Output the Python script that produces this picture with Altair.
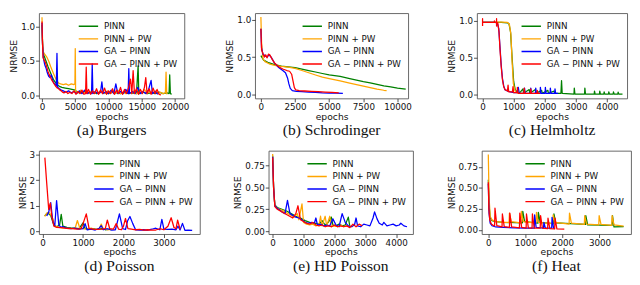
import altair as alt
import pandas as pd

SERIES = ["PINN", "PINN + PW", "GA − PINN", "GA − PINN + PW"]
COLORS = ["green", "orange", "blue", "red"]

# ---------------- (a) Burgers ----------------
a_pinn = [(0,1.02),(100,0.70),(300,0.58),(600,0.50),(900,0.42),(1200,0.35),(1500,0.28),(1800,0.22),(2100,0.18),
          (2400,0.15),(2700,0.13),(3000,0.12),(3500,0.11),(4000,0.10),(4500,0.09),(5000,0.08),(5300,0.05),(5800,0.04),
          (6400,0.06),(7000,0.04),(7600,0.05),(8200,0.03),(8800,0.06),(9400,0.04),(10000,0.03),(10600,0.05),(11200,0.04),
          (11800,0.03),(12400,0.05),(13000,0.03),(13600,0.04),(14200,0.03),(14450,0.43),(14550,0.04),(14650,0.03),
          (15200,0.05),(15800,0.03),(16400,0.04),(17000,0.03),(17600,0.05),(18200,0.03),(18800,0.04),(19100,0.03),
          (19200,0.30),(19300,0.03),(19500,0.02)]
a_pw = [(0,1.13),(80,0.80),(200,0.62),(400,0.60),(700,0.56),(1000,0.50),(1300,0.42),(1600,0.35),(1900,0.28),(2200,0.22),
        (2500,0.18),(2800,0.17),(3200,0.16),(3600,0.17),(4000,0.15),(4400,0.17),(4800,0.16),(4950,0.17),(5000,0.68),
        (5050,0.06),(5400,0.04),(5800,0.08),(6200,0.03),(6600,0.06),(7000,0.03),(7400,0.07),(7800,0.03),(8200,0.05),
        (8600,0.03),(9000,0.06),(9400,0.03),(9800,0.07),(10200,0.03),(10600,0.05),(11000,0.03),(11400,0.08),(11800,0.03),
        (12200,0.05),(12600,0.03),(13000,0.06),(13400,0.03),(13800,0.07),(14200,0.03),(14600,0.05),(15000,0.03),
        (15400,0.09),(15800,0.03),(16200,0.06),(16600,0.03),(17000,0.07),(17400,0.03),(17800,0.05),(18200,0.03),
        (18550,0.04),(18650,0.34),(18750,0.03),(18850,0.02)]
a_ga = [(0,1.05),(80,0.75),(200,0.55),(400,0.45),(600,0.40),(800,0.33),(1000,0.28),(1200,0.26),(1400,0.30),(1600,0.22),
        (1800,0.18),(2000,0.16),(2150,0.14),(2250,0.61),(2350,0.12),(2600,0.10),(2900,0.08),(3200,0.07),(3600,0.05),
        (4000,0.07),(4400,0.04),(4800,0.06),(5200,0.03),(5600,0.07),(6000,0.03),(6400,0.08),(6800,0.03),(7200,0.05),
        (7450,0.03),(7550,0.46),(7650,0.03),(8000,0.06),(8400,0.03),(8800,0.05),(9000,0.20),(9200,0.03),(9600,0.06),
        (10000,0.03),(10400,0.08),(10800,0.03),(11100,0.17),(11400,0.03),(11800,0.06),(12200,0.03),(12600,0.09),
        (12950,0.03),(13050,0.39),(13150,0.03),(13600,0.06),(14000,0.03),(14400,0.12),(14800,0.03),(15200,0.06),
        (15600,0.03),(16000,0.08),(16400,0.22),(16600,0.03),(17000,0.06),(17400,0.02)]
a_gapw = [(0,1.07),(60,0.80),(150,0.55),(300,0.52),(500,0.48),(700,0.42),(900,0.35),(1100,0.30),(1300,0.26),(1500,0.22),
          (1700,0.19),(1900,0.16),(2100,0.13),(2300,0.11),(2500,0.10),(2700,0.08),(2900,0.07),(3100,0.05),(3300,0.04),
          (3600,0.06),(3900,0.03),(4200,0.05),(4500,0.03),(4800,0.07),(5100,0.02),(5400,0.06),(5700,0.03),(6000,0.08),
          (6300,0.02),(6550,0.03),(6650,0.41),(6750,0.03),(7000,0.09),(7300,0.02),(7600,0.07),(7900,0.03),(8200,0.10),
          (8500,0.02),(8800,0.08),(9100,0.03),(9400,0.11),(9700,0.02),(10000,0.07),(10300,0.03),(10600,0.10),(10900,0.02),
          (11200,0.08),(11500,0.03),(11800,0.12),(12100,0.02),(12400,0.09),(12700,0.03),(13000,0.11),(13300,0.24),
          (13500,0.03),(13700,0.36),(13900,0.03),(14200,0.10),(14500,0.02),(14800,0.09),(15100,0.03),(15400,0.12),
          (15600,0.26),(15800,0.03),(16100,0.10),(16400,0.02),(16700,0.11),(17000,0.03),(17300,0.09),(17600,0.02),
          (17900,0.01)]

# ---------------- (b) Schrodinger ----------------
b_pinn = [(0,0.52),(200,0.46),(500,0.43),(1000,0.40),(1500,0.38),(2000,0.37),(2500,0.36),(3000,0.34),(3500,0.32),
          (4000,0.30),(4500,0.28),(5000,0.26),(5800,0.24),(6500,0.21),(7000,0.19),(7500,0.17),(8000,0.155),(8500,0.135),
          (9000,0.115),(9500,0.10),(10000,0.085),(10600,0.07)]
b_pw = [(0,1.04),(50,0.70),(150,0.48),(300,0.44),(600,0.41),(1000,0.39),(1500,0.375),(2000,0.365),(2500,0.35),(3000,0.32),
        (3500,0.29),(4000,0.26),(4500,0.23),(5000,0.21),(5800,0.18),(6500,0.15),(7000,0.13),(7500,0.11),(8000,0.09),
        (8500,0.07),(9000,0.055),(9200,0.05)]
b_ga = [(0,0.88),(50,0.62),(150,0.54),(300,0.52),(450,0.50),(600,0.53),(750,0.50),(1000,0.42),(1300,0.36),(1600,0.32),
        (1800,0.29),(1950,0.22),(2050,0.14),(2150,0.08),(2300,0.05),(2600,0.04),(3000,0.035),(3500,0.03),(4000,0.025),
        (4500,0.02),(5000,0.018),(5500,0.015),(6000,0.013)]
b_gapw = [(0,0.88),(50,0.60),(150,0.55),(250,0.50),(350,0.53),(450,0.49),(550,0.54),(650,0.53),(800,0.48),(1000,0.42),
          (1300,0.37),(1600,0.34),(1900,0.32),(2100,0.31),(2250,0.27),(2350,0.18),(2450,0.09),(2550,0.06),(2800,0.05),
          (3200,0.045),(3700,0.04),(4200,0.035),(4700,0.03),(5200,0.025),(5700,0.02)]

# ---------------- (c) Helmholtz ----------------
c_pinn = [(0,0.98),(200,0.98),(400,0.98),(600,0.98),(800,0.975),(850,0.96),(900,0.85),(950,0.50),(1000,0.18),(1050,0.07),
          (1100,0.04),(1200,0.03),(1300,0.08),(1320,0.02),(1500,0.07),(1520,0.02),(1700,0.07),(1720,0.02),(1900,0.06),
          (1920,0.02),(2100,0.06),(2120,0.02),(2300,0.05),(2320,0.02),(2520,0.02),(2540,0.19),(2560,0.02),(2940,0.01),
          (2950,0.09),(2970,0.01),(3280,0.01),(3290,0.09),(3310,0.01),(3590,0.01),(3600,0.05),(3620,0.01),(3760,0.01),
          (3770,0.05),(3790,0.01),(3900,0.01),(3910,0.04),(3930,0.01),(4050,0.01),(4060,0.04),(4080,0.01),(4200,0.01),
          (4210,0.04),(4230,0.01),(4350,0.01),(4360,0.035),(4380,0.01),(4500,0.01)]
c_pw = [(0,0.985),(200,0.985),(400,0.985),(600,0.985),(800,0.98),(860,0.96),(910,0.82),(950,0.45),(990,0.15),(1040,0.06),
        (1100,0.03),(1200,0.02),(1300,0.02)]
c_ga = [(0,0.98),(200,0.98),(400,0.98),(470,0.975),(520,0.90),(560,0.65),(600,0.40),(640,0.22),(680,0.12),(720,0.07),
        (800,0.05),(900,0.04),(1000,0.03),(1100,0.03),(1150,0.10),(1180,0.02),(1340,0.02),(1350,0.09),(1370,0.02),
        (1540,0.02),(1550,0.09),(1570,0.02),(1700,0.02),(1710,0.09),(1730,0.02),(1850,0.02),(1860,0.10),(1880,0.02),
        (2010,0.02),(2020,0.10),(2040,0.02),(2170,0.02),(2180,0.09),(2200,0.02),(2320,0.02),(2330,0.08),(2350,0.02),
        (2430,0.02)]
c_gapw = [(0,0.93),(0,1.03),(0,0.98),(200,0.98),(380,0.98),(380,1.0),(380,0.98),(450,0.98),(450,0.93),(450,1.03),
          (450,0.98),(490,0.97),(530,0.85),(560,0.62),(600,0.38),(640,0.20),(680,0.11),(720,0.07),(760,0.06),(800,0.05),
          (820,0.13),(840,0.04),(960,0.04),(980,0.11),(1000,0.03),(1110,0.03),(1120,0.10),(1140,0.02),(1330,0.02),
          (1340,0.09),(1360,0.02),(1540,0.02),(1550,0.08),(1570,0.02),(1750,0.02),(1760,0.06),(1780,0.02),(1850,0.02)]

# ---------------- (d) Poisson ----------------
d_pinn = [(50,0.6),(120,0.72),(200,0.62),(280,0.22),(350,0.18),(420,0.25),(460,0.66),(500,0.2),(600,0.15),(700,0.13),
          (800,0.12),(900,0.1),(1000,0.33),(1050,0.1),(1150,0.08),(1250,0.1),(1350,0.07),(1450,0.1),(1550,0.06),
          (1650,0.08),(1700,0.05)]
d_pw = [(50,0.58),(100,0.7),(150,0.75),(200,0.65),(250,0.5),(300,0.2),(400,0.15),(500,0.13),(600,0.12),(700,0.11),
        (800,0.1),(860,0.42),(920,0.12),(1000,0.1),(1100,0.08),(1200,0.12),(1300,0.07),(1400,0.1),(1450,0.28),(1500,0.1),
        (1600,0.06),(1700,0.07)]
d_ga = [(100,0.6),(150,0.75),(200,1.12),(250,0.4),(300,0.2),(345,1.2),(400,0.25),(450,0.15),(500,0.18),(600,0.12),
        (700,0.1),(800,0.12),(900,0.08),(1000,0.1),(1050,0.3),(1100,0.06),(1200,0.08),(1300,0.05),(1400,0.12),(1450,0.22),
        (1500,0.06),(1600,0.1),(1700,0.05),(1800,0.06),(1900,0.68),(1980,0.1),(2050,0.07),(2100,0.4),(2160,0.58),
        (2230,0.3),(2300,0.06),(2400,0.05),(2500,0.06),(2600,0.05),(2700,0.08),(2800,0.12),(2900,0.06),(2950,0.47),
        (3000,0.08),(3100,0.07),(3200,0.08),(3300,0.06),(3350,0.2),(3400,0.05),(3460,0.31),(3520,0.04),(3600,0.05),
        (3700,0.04)]
d_gapw = [(55,2.88),(100,1.9),(150,0.85),(190,1.1),(230,0.55),(280,0.2),(350,0.15),(450,0.14),(550,0.12),(650,0.1),
          (750,0.1),(850,0.08),(950,0.1),(1000,0.3),(1080,0.68),(1150,0.1),(1250,0.08),(1350,0.07),(1450,0.08),
          (1550,0.1),(1600,0.44),(1660,0.1),(1750,0.08),(1820,0.3),(1880,0.08),(1950,0.06),(2000,0.2),(2050,0.5),
          (2110,0.1),(2200,0.08),(2300,0.06),(2400,0.07),(2500,0.05),(2600,0.06),(2700,0.05),(2800,0.05),(2900,0.1),
          (3000,0.06),(3100,0.2),(3180,0.53),(3250,0.15),(3300,0.1),(3340,0.44),(3400,0.08)]

# ---------------- (e) HD Poisson ----------------
e_pinn = [(0,0.86),(30,0.5),(70,0.3),(150,0.27),(300,0.25),(450,0.23),(600,0.2),(750,0.17),(900,0.15),(1050,0.12),
          (1200,0.1),(1350,0.09),(1500,0.08),(1600,0.12),(1700,0.07),(1800,0.1),(1900,0.16),(1950,0.07),(2050,0.06),
          (2150,0.08),(2250,0.06),(2350,0.07),(2450,0.16),(2500,0.05)]
e_pw = [(0,0.88),(30,0.5),(70,0.29),(150,0.26),(300,0.24),(450,0.21),(600,0.18),(700,0.16),(800,0.2),(850,0.13),
        (950,0.31),(1000,0.1),(1100,0.08),(1200,0.07),(1300,0.08),(1400,0.06),(1500,0.07),(1550,0.17),(1600,0.06),
        (1700,0.17),(1750,0.06),(1850,0.17),(1900,0.05),(2000,0.06),(2100,0.05),(2200,0.07),(2300,0.05),(2400,0.06),
        (2600,0.05)]
e_ga = [(0,0.85),(30,0.5),(70,0.29),(150,0.26),(300,0.22),(400,0.2),(480,0.35),(560,0.2),(650,0.18),(750,0.16),
        (850,0.15),(950,0.13),(1050,0.1),(1150,0.09),(1250,0.1),(1350,0.09),(1400,0.15),(1450,0.07),(1550,0.08),
        (1650,0.06),(1750,0.07),(1850,0.06),(1950,0.14),(2050,0.07),(2150,0.05),(2250,0.2),(2350,0.1),(2450,0.06),
        (2550,0.05),(2650,0.07),(2700,0.15),(2750,0.06),(2850,0.05),(2950,0.08),(3050,0.07),(3150,0.06),(3250,0.15),
        (3300,0.22),(3380,0.14),(3450,0.09),(3550,0.07),(3600,0.1),(3700,0.06),(3800,0.07),(3900,0.08),(4000,0.06),
        (4100,0.07),(4150,0.09),(4250,0.06),(4350,0.05)]
e_gapw = [(0,0.84),(30,0.5),(70,0.28),(150,0.25),(300,0.22),(450,0.19),(550,0.17),(650,0.15),(750,0.2),(820,0.29),
          (900,0.13),(1000,0.11),(1100,0.09),(1200,0.08),(1300,0.1),(1400,0.07),(1500,0.06),(1600,0.07),(1700,0.05),
          (1800,0.06),(1900,0.05),(2000,0.07),(2100,0.05),(2200,0.06),(2300,0.05),(2400,0.06),(2500,0.04),(2600,0.08),
          (2700,0.05),(2800,0.08),(2900,0.06)]

# ---------------- (f) Heat ----------------
f_pinn = [(0,0.6),(20,0.3),(50,0.15),(100,0.11),(200,0.10),(400,0.09),(920,0.085),(930,0.22),(980,0.1),(1340,0.08),
          (1350,0.21),(1400,0.09),(1760,0.075),(1770,0.19),(1820,0.085),(2620,0.065),(2630,0.17),(2680,0.06),
          (3340,0.055),(3350,0.17),(3390,0.035),(3650,0.04)]
f_pw = [(0,0.90),(20,0.4),(50,0.16),(100,0.12),(200,0.10),(400,0.09),(560,0.09),(570,0.2),(620,0.1),(880,0.085),
        (890,0.22),(940,0.1),(1290,0.08),(1300,0.21),(1350,0.09),(1740,0.075),(1750,0.18),(1800,0.09),(2180,0.07),
        (2190,0.2),(2240,0.08),(2590,0.065),(2600,0.17),(2650,0.07),(2980,0.06),(2990,0.17),(3040,0.065),(3330,0.055),
        (3340,0.17),(3390,0.06),(3650,0.045)]
f_ga = [(0,0.55),(20,0.2),(50,0.08),(100,0.05),(200,0.035),(400,0.03),(700,0.025),(1000,0.02),(1240,0.02),(1250,0.18),
        (1290,0.03),(1490,0.02),(1500,0.09),(1540,0.02),(1710,0.02),(1720,0.15),(1760,0.02),(1800,0.015)]
f_gapw = [(0,0.57),(15,0.25),(40,0.12),(80,0.07),(150,0.05),(170,0.05),(180,0.26),(230,0.05),(370,0.035),(380,0.19),
          (430,0.04),(570,0.03),(580,0.2),(630,0.035),(840,0.025),(850,0.2),(900,0.03),(1020,0.02),(1030,0.19),
          (1080,0.025),(1180,0.02),(1190,0.19),(1240,0.02),(1400,0.02),(1410,0.17),(1460,0.02),(1600,0.015),
          (1610,0.14),(1660,0.015),(1790,0.012),(1800,0.14),(1850,0.012),(2050,0.01)]

AX_FONT = "DejaVu Sans"


def panel(series, xdom, ydom, xticks, yticks, yfmt, w, h, caption):
    rows = []
    for name, pts in zip(SERIES, series):
        for i, (x, y) in enumerate(pts):
            rows.append({"s": name, "x": x, "y": y, "o": i})
    df = pd.DataFrame(rows)
    return alt.Chart(df).mark_line(strokeWidth=1.3, clip=True, strokeJoin="round").encode(
        x=alt.X("x:Q", scale=alt.Scale(domain=xdom, nice=False, zero=False),
                axis=alt.Axis(values=xticks, format="d", title="epochs", titlePadding=0)),
        y=alt.Y("y:Q", scale=alt.Scale(domain=ydom, nice=False, zero=False),
                axis=alt.Axis(values=yticks, format=yfmt, title="NRMSE", titlePadding=2)),
        color=alt.Color("s:N", scale=alt.Scale(domain=SERIES, range=COLORS),
                        legend=alt.Legend(title=None, orient="top-right", offset=7, symbolType="stroke",
                                          symbolSize=400, symbolStrokeWidth=1.5, labelFontSize=9,
                                          labelFont=AX_FONT, labelColor="#111", rowPadding=0, padding=0,
                                          clipHeight=13, labelOffset=5)),
        order="o:Q",
    ).properties(width=w, height=h,
                 title=alt.TitleParams(caption, orient="bottom", font="Liberation Serif", fontSize=16,
                                       fontWeight="normal", color="#111", offset=2))


pa = panel([a_pinn, a_pw, a_ga, a_gapw], [-450, 21400], [-0.04, 1.19], [0, 5000, 10000, 15000, 20000],
           [0, 0.5, 1.0], ".1f", 150, 88, "(a) Burgers")
pb = panel([b_pinn, b_pw, b_ga, b_gapw], [-425, 10780], [-0.055, 1.09], [0, 2500, 5000, 7500, 10000],
           [0, 0.5, 1.0], ".1f", 158, 88, "(b) Schrodinger")
pc = panel([c_pinn, c_pw, c_ga, c_gapw], [-180, 4650], [-0.05, 1.105], [0, 1000, 2000, 3000, 4000],
           [0, 0.5, 1.0], ".1f", 155, 88, "(c) Helmholtz")
pd_ = panel([d_pinn, d_pw, d_ga, d_gapw], [-90, 3890], [-0.11, 3.15], [0, 1000, 2000, 3000],
            [0, 1, 2, 3], "d", 166, 86, "(d) Poisson")
pe = panel([e_pinn, e_pw, e_ga, e_gapw], [-130, 4545], [-0.034, 0.918], [0, 1000, 2000, 3000, 4000],
           [0, 0.25, 0.5, 0.75], ".2f", 149, 86, "(e) HD Poisson")
pf = panel([f_pinn, f_pw, f_ga, f_gapw], [-175, 3850], [-0.05, 0.945], [0, 1000, 2000, 3000],
           [0, 0.25, 0.5, 0.75], ".2f", 154, 86, "(f) Heat")

row1 = alt.hconcat(pa, pb, pc, spacing=35).resolve_scale(color="independent").resolve_legend(color="independent")
row2 = alt.hconcat(pd_, pe, pf, spacing=33).resolve_scale(color="independent").resolve_legend(color="independent")

chart = alt.vconcat(row1, row2, spacing=11).resolve_scale(color="independent").resolve_legend(
    color="independent").properties(padding=0).configure_view(stroke="#555", strokeWidth=0.9).configure_axis(
    grid=False, domain=False, tickColor="#222", tickSize=3.5, tickWidth=0.8,
    labelFont=AX_FONT, labelFontSize=9, labelColor="#111", labelPadding=1,
    titleFont=AX_FONT, titleFontSize=9.5, titleFontWeight="normal", titleColor="#111")

chart.save("out.html", embed_options={"renderer": "svg", "actions": False})
